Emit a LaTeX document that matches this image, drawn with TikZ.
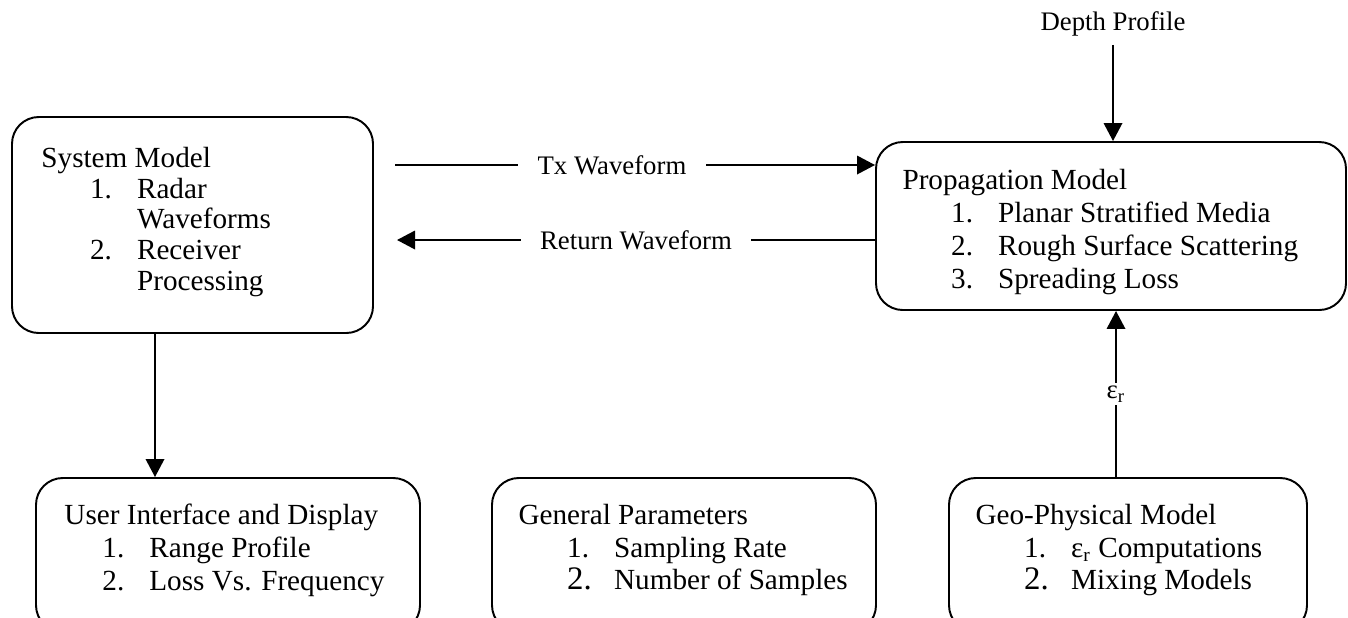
\documentclass[tikz,border=0pt]{standalone}
\usepackage{fontspec}
\setmainfont{Liberation Serif}
\usetikzlibrary{arrows.meta,positioning}

% one screen pixel of the layout grid
\newcommand{\pxu}{0.411pt}
% numbered entry inside a model box
\newcommand{\bitem}[3][20pt]{\hspace*{#1}\makebox[19.3pt][l]{#2}#3}
% slightly larger list number
\newcommand{\bignum}[1]{{\fontsize{13.5pt}{13.6pt}\selectfont #1}}

\tikzset{
  mdlBox/.style={
    draw,
    line width=0.8pt,
    rounded corners=11pt,
    inner sep=0pt
  },
  mdlText/.style={
    inner sep=0pt,
    align=left,
    font=\fontsize{12pt}{13.4pt}\selectfont
  },
  sigLabel/.style={
    font=\fontsize{11pt}{13pt}\selectfont,
    fill=white,
    inner xsep=8pt,
    inner ysep=1pt
  },
  sigArrow/.style={
    line width=0.8pt,
    -{Triangle[length=7.4pt,width=7.6pt]}
  }
}

\begin{document}
\begin{tikzpicture}[x=\pxu, y=-\pxu]
    \clip (0,0) rectangle (1348,617);

    % Model boxes
    \node (sysBox) [mdlBox, minimum width=361*\pxu, minimum height=216*\pxu] at (192.5,225) {};
    \node (propBox) [mdlBox, minimum width=470*\pxu, minimum height=168*\pxu] at (1111,226) {};
    \node (userBox) [mdlBox, minimum width=384*\pxu, minimum height=154*\pxu] at (228,555) {};
    \node (genBox) [mdlBox, minimum width=384*\pxu, minimum height=154*\pxu] at (684,555) {};
    \node (geoBox) [mdlBox, minimum width=358*\pxu, minimum height=154*\pxu] at (1128,555) {};

    % Box contents
    \node (sysText) [mdlText, font=\fontsize{12pt}{12.6pt}\selectfont, below right=12.6pt and 12.3pt of sysBox.north west] {
      System Model\\
      \bitem{1.}{Radar}\\
      \bitem{}{Waveforms}\\
      \bitem{2.}{Receiver}\\
      \bitem{}{Processing}
    };

    \node (propText) [mdlText, font=\fontsize{12pt}{13.6pt}\selectfont, below right=11.4pt and 11.1pt of propBox.north west] {
      Propagation Model\\
      \bitem{1.}{Planar Stratified Media}\\
      \bitem{2.}{Rough Surface Scattering}\\
      \bitem{3.}{Spreading Loss}
    };

    \node (userText) [mdlText, below right=11pt and 11.9pt of userBox.north west] {
      User Interface and Display\\
      \bitem[15.6pt]{1.}{Range Profile}\\
      \bitem[15.6pt]{2.}{Loss Vs. Frequency}
    };

    \node (genText) [mdlText, below right=11pt and 11.1pt of genBox.north west] {
      General Parameters\\
      \bitem{1.}{Sampling Rate}\\
      \bitem{\bignum{2.}}{Number of Samples}
    };

    \node (geoText) [mdlText, below right=11pt and 11.1pt of geoBox.north west] {
      Geo-Physical Model\\
      \bitem{1.}{ε\textsubscript{r} Computations}\\
      \bitem{\bignum{2.}}{Mixing Models}
    };

    % Depth profile feeding the propagation model
    \node (depth) [font=\fontsize{11pt}{13pt}\selectfont] at (1113,24) {Depth Profile};
    \draw [sigArrow] (depth.south) -- (depth.south |- propBox.north);

    % System model to display
    \coordinate (dnX) at (155,400);
    \draw [sigArrow] (sysBox.south -| dnX) -- (userBox.north -| dnX);

    % Waveforms between system and propagation
    \coordinate (txStart) at (395,165);
    \coordinate (rxEnd) at (397,240);
    \draw [sigArrow] (txStart) -- node[sigLabel, pos=0.452] {Tx Waveform} (txStart -| propBox.west);
    \draw [sigArrow] (rxEnd -| propBox.west) -- node[sigLabel] {Return Waveform} (rxEnd);

    % Permittivity from the geo-physical model
    \coordinate (epsX) at (1116,400);
    \draw [sigArrow] (geoBox.north -| epsX) -- node[sigLabel, inner xsep=1pt] {ε\textsubscript{r}} (propBox.south -| epsX);
  \end{tikzpicture}
\end{document}
